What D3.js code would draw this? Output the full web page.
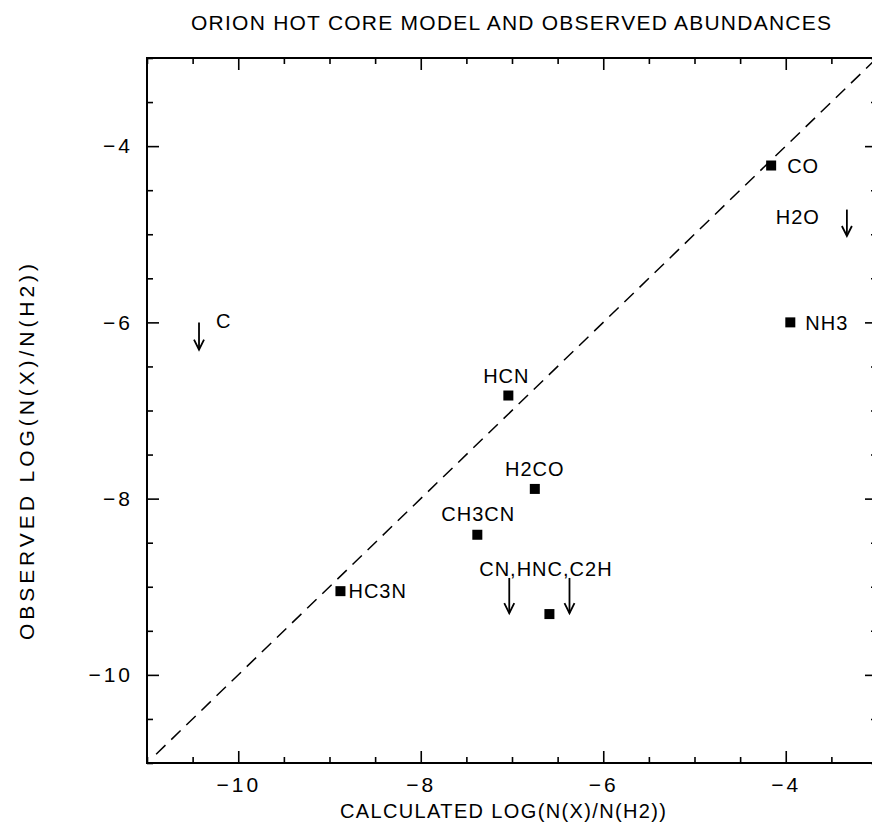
<!DOCTYPE html>
<html>
<head>
<meta charset="utf-8">
<script src="https://cdn.jsdelivr.net/npm/d3@7"></script>
<style>
  body { margin: 0; background: #fff; }
  svg { display: block; font-family: "Liberation Sans", Arial, sans-serif; }
</style>
</head>
<body>
<svg width="872" height="824"></svg>
<script>
// detections (squares): calculated vs observed log abundance
const molecules = ['CO', 'NH3', 'HCN', 'H2CO', 'CH3CN', 'HC3N', 'HNC'];
const calcVals = [-4.16, -3.95, -7.04, -6.75, -7.38, -8.88, -6.59];
const obsVals = [-4.22, -6.0, -6.83, -7.89, -8.41, -9.05, -9.31];

// upper limits (arrows)
const limitNames = ['C', 'H2O', 'CN', 'C2H'];
const limitCalc = [-10.43, -3.33, -7.03, -6.37];
const limitTop = [-6.0, -4.72, -8.9, -8.9];
const limitTip = [-6.31, -5.02, -9.3, -9.3];

const xTicks = [-10, -8, -6, -4];
const xTickLabels = ['−10', '−8', '−6', '−4'];
const yTicks = [-10, -8, -6, -4];
const yTickLabels = ['−10', '−8', '−6', '−4'];

const svg = d3.select('svg');
const plotLeft = 147, plotRight = 877, plotTop = 58, plotBottom = 763;

const x = d3.scaleLinear().domain([-11, -3]).range([plotLeft, plotRight]);
const y = d3.scaleLinear().domain([-11, -3]).range([plotBottom, plotTop]);

const minor = d3.range(-11, -2.9, 0.5).filter(v => !xTicks.includes(v));

// frame
svg.append('rect')
    .attr('x', plotLeft).attr('y', plotTop)
    .attr('width', plotRight - plotLeft).attr('height', plotBottom - plotTop)
    .attr('fill', 'none').attr('stroke', '#000').attr('stroke-width', 2);

const styleAxis = (g) => {
    g.select('.domain').remove();
    g.selectAll('.tick line').attr('stroke', '#000').attr('stroke-width', 1.6);
    g.selectAll('.tick text').attr('fill', '#000').style('font-size', '21px')
        .attr('letter-spacing', 3);
}

// major + minor ticks on all four sides, pointing inward
svg.append('g').attr('transform', `translate(0,${plotBottom})`)
    .call(d3.axisBottom(x).tickValues(xTicks).tickSize(-12).tickPadding(14)
        .tickFormat((d, i) => xTickLabels[i]))
    .call(styleAxis);
svg.append('g').attr('transform', `translate(0,${plotBottom})`)
    .call(d3.axisBottom(x).tickValues(minor).tickSize(-6).tickFormat(''))
    .call(styleAxis);
svg.append('g').attr('transform', `translate(0,${plotTop})`)
    .call(d3.axisTop(x).tickValues(xTicks).tickSize(-12).tickFormat(''))
    .call(styleAxis);
svg.append('g').attr('transform', `translate(0,${plotTop})`)
    .call(d3.axisTop(x).tickValues(minor).tickSize(-6).tickFormat(''))
    .call(styleAxis);

svg.append('g').attr('transform', `translate(${plotLeft},0)`)
    .call(d3.axisLeft(y).tickValues(yTicks).tickSize(-12).tickPadding(14)
        .tickFormat((d, i) => yTickLabels[i]))
    .call(styleAxis);
svg.append('g').attr('transform', `translate(${plotLeft},0)`)
    .call(d3.axisLeft(y).tickValues(minor).tickSize(-6).tickFormat(''))
    .call(styleAxis);
svg.append('g').attr('transform', `translate(${plotRight},0)`)
    .call(d3.axisRight(y).tickValues(yTicks).tickSize(-12).tickFormat(''))
    .call(styleAxis);
svg.append('g').attr('transform', `translate(${plotRight},0)`)
    .call(d3.axisRight(y).tickValues(minor).tickSize(-6).tickFormat(''))
    .call(styleAxis);

// one-to-one line
svg.append('line')
    .attr('x1', x(-10.9)).attr('y1', y(-10.9))
    .attr('x2', x(-3)).attr('y2', y(-3))
    .attr('stroke', '#000').attr('stroke-width', 1.5)
    .attr('stroke-dasharray', '13,8');

// squares
const sq = 10;
svg.append('g').selectAll('rect')
    .data(molecules)
    .join('rect')
    .attr('x', (d, i) => x(calcVals[i]) - sq / 2)
    .attr('y', (d, i) => y(obsVals[i]) - sq / 2)
    .attr('width', sq).attr('height', sq)
    .attr('fill', '#000');

// arrows for upper limits
const arrows = svg.append('g').attr('stroke', '#000').attr('stroke-width', 1.8).attr('fill', 'none');
limitNames.forEach((n, i) => {
    const ax = x(limitCalc[i]);
    const y0 = y(limitTop[i]);
    const y1 = y(limitTip[i]);
    arrows.append('line').attr('x1', ax).attr('x2', ax).attr('y1', y0).attr('y2', y1);
    arrows.append('path').attr('d', `M${ax - 5},${y1 - 10}L${ax},${y1}L${ax + 5},${y1 - 10}`);
});

// text labels placed relative to their marks
const labelOpts = {
    'CO': { dx: 16, dy: 0, anchor: 'start' },
    'NH3': { dx: 15, dy: 0, anchor: 'start' },
    'HCN': { dx: -2, dy: -20, anchor: 'middle' },
    'H2CO': { dx: 0, dy: -20, anchor: 'middle' },
    'CH3CN': { dx: 1, dy: -21, anchor: 'middle' },
    'HC3N': { dx: 8, dy: 0, anchor: 'start' },
    'HNC': { dx: -3.5, dy: -45.5, anchor: 'middle', text: 'CN,HNC,C2H' }
};
const limitLabelOpts = {
    'C': { dx: 17, dy: -2, anchor: 'start' },
    'H2O': { dx: -27, dy: 7, anchor: 'end' }
};

const labels = svg.append('g').style('font-size', '20px').attr('fill', '#000');
molecules.forEach((m, i) => {
    const o = labelOpts[m];
    labels.append('text')
        .attr('x', x(calcVals[i]) + o.dx)
        .attr('y', y(obsVals[i]) + o.dy)
        .attr('dy', '0.36em')
        .attr('text-anchor', o.anchor)
        .attr('letter-spacing', 1)
        .text(o.text || m);
});
limitNames.forEach((n, i) => {
    const o = limitLabelOpts[n];
    if (!o) return;
    labels.append('text')
        .attr('x', x(limitCalc[i]) + o.dx)
        .attr('y', y(limitTop[i]) + o.dy)
        .attr('dy', '0.36em')
        .attr('text-anchor', o.anchor)
        .attr('letter-spacing', 1)
        .text(n);
});

// titles
svg.append('text')
    .attr('x', 191).attr('y', 22).attr('dy', '0.36em')
    .attr('textLength', 640).attr('lengthAdjust', 'spacing')
    .style('font-size', '21px')
    .text('ORION HOT CORE MODEL AND OBSERVED ABUNDANCES');

svg.append('text')
    .attr('x', 340).attr('y', 811).attr('dy', '0.36em')
    .attr('textLength', 326).attr('lengthAdjust', 'spacing')
    .style('font-size', '20px')
    .text('CALCULATED LOG(N(X)/N(H2))');

svg.append('text')
    .attr('transform', 'translate(26,640) rotate(-90)')
    .attr('dy', '0.36em')
    .attr('textLength', 376).attr('lengthAdjust', 'spacing')
    .style('font-size', '21px')
    .text('OBSERVED LOG(N(X)/N(H2))');
</script>
</body>
</html>
